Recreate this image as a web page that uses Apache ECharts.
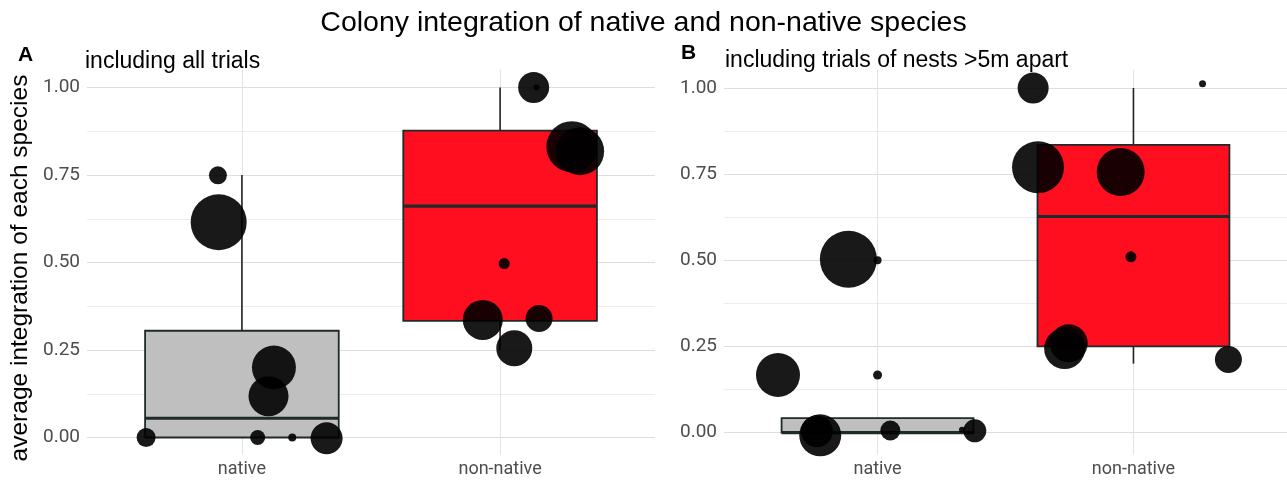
<!DOCTYPE html>
<html>
<head>
<meta charset="utf-8">
<script src="https://cdn.jsdelivr.net/npm/echarts@6/dist/echarts.min.js"></script>
<style>
  html, body { margin: 0; padding: 0; background: #fff; }
  #chart { width: 1287px; height: 481px; }
</style>
</head>
<body>
<div id="chart"></div>
<script>
// categories and ticks
var categories = ["native", "non-native"];
var yTicks = [0, 0.25, 0.5, 0.75, 1];
var yMinor = [0.125, 0.375, 0.625, 0.875];

// boxplot stats: [category x, min, q1, median, q3, max]
var boxAll = [
  [1, 0, 0, 0.055, 0.305, 0.75],
  [2, 0.25, 0.333, 0.661, 0.877, 1.0]
];
var boxFar = [
  [1, 0, 0, 0, 0.042, 0.042],
  [2, 0.2, 0.25, 0.627, 0.835, 1.0]
];

// jittered points: [x, integration, point size]
var ptsAll = [
  [0.907, 0.749, 18], [0.91, 0.615, 56], [1.124, 0.2, 44], [1.103, 0.118, 40],
  [0.629, 0, 19], [1.061, 0, 15], [1.195, 0, 8], [1.328, -0.002, 32],
  [2.13, 1.0, 31], [2.141, 1.0, 6], [2.278, 0.831, 51], [2.31, 0.818, 48],
  [2.016, 0.497, 11], [1.933, 0.336, 40], [2.151, 0.34, 27], [2.055, 0.255, 36]
];
var ptsFar = [
  [0.886, 0.503, 57], [1.0, 0.5, 8], [0.611, 0.167, 44], [1.0, 0.167, 9],
  [0.763, 0.004, 32], [0.776, -0.008, 42], [1.05, 0.006, 20], [1.33, 0.008, 6],
  [1.38, 0.005, 23],
  [1.608, 1.0, 31], [2.27, 1.012, 7], [1.627, 0.77, 52], [1.95, 0.756, 48],
  [1.99, 0.51, 11], [1.731, 0.244, 41], [1.747, 0.259, 38], [2.371, 0.212, 27]
];

var boxColors = ["#bfbfbf", "#fe0e1f"];
var tickColor = "#4d4d4d";
var fontTick = "Roboto, sans-serif";
var fontMain = "'Liberation Sans', Arial, sans-serif";

function renderBox(params, api) {
  var x = api.value(0);
  var half = 0.375;
  var pMin = api.coord([x, api.value(1)]);
  var pQ1 = api.coord([x, api.value(2)]);
  var pMed = api.coord([x, api.value(3)]);
  var pQ3 = api.coord([x, api.value(4)]);
  var pMax = api.coord([x, api.value(5)]);
  var left = api.coord([x - half, 0])[0];
  var right = api.coord([x + half, 0])[0];
  var lineStyle = { stroke: "#222", lineWidth: 1.6 };
  return {
    type: "group",
    children: [
      { type: "line", shape: { x1: pQ3[0], y1: pQ3[1], x2: pMax[0], y2: pMax[1] }, style: lineStyle },
      { type: "line", shape: { x1: pQ1[0], y1: pQ1[1], x2: pMin[0], y2: pMin[1] }, style: lineStyle },
      {
        type: "rect",
        shape: { x: left, y: pQ3[1], width: right - left, height: pQ1[1] - pQ3[1] },
        style: { fill: boxColors[params.dataIndex], stroke: "#1f2a2a", lineWidth: 1.8 }
      },
      { type: "line", shape: { x1: left, y1: pMed[1], x2: right, y2: pMed[1] }, style: { stroke: "#1f2a2a", lineWidth: 3.2 } }
    ]
  };
}

function xAxisFor(gi) {
  return {
    type: "value", gridIndex: gi, min: 0.4, max: 2.6,
    axisLine: { show: false },
    axisTick: { show: false, customValues: [1, 2] },
    axisLabel: {
      customValues: [1, 2], margin: 5, color: tickColor, fontSize: 18, fontFamily: fontTick,
      formatter: function (v) { return categories[Math.round(v) - 1]; }
    },
    splitLine: { show: true, lineStyle: { color: "#e3e3e3", width: 1 } }
  };
}

function yAxisFor(gi, min, max) {
  return {
    type: "value", gridIndex: gi, min: min, max: max,
    axisLine: { show: false },
    axisTick: { show: false, customValues: yTicks },
    axisLabel: {
      customValues: yTicks, margin: 7, color: tickColor, fontSize: 19, fontFamily: fontTick,
      formatter: function (v) { return v.toFixed(2); }
    },
    splitLine: { show: true, lineStyle: { color: "#dedede", width: 1.2 } }
  };
}

function yMinorFor(gi, min, max) {
  return {
    type: "value", gridIndex: gi, min: min, max: max, position: "left",
    axisLine: { show: false },
    axisTick: { show: false, customValues: yMinor },
    axisLabel: { show: false, customValues: yMinor },
    splitLine: { show: true, lineStyle: { color: "#ededed", width: 1 } }
  };
}

var chart = echarts.init(document.getElementById("chart"));

var option = {
  backgroundColor: "#fff",
  animation: false,
  title: [
    { text: "Colony integration of native and non-native species", left: "center", top: 4,
      textStyle: { fontSize: 28.5, fontWeight: "normal", color: "#000", fontFamily: fontMain } },
    { text: "A", left: 13, top: 40, textStyle: { fontSize: 21, fontWeight: "bold", color: "#000", fontFamily: fontMain } },
    { text: "including all trials", left: 80, top: 45, textStyle: { fontSize: 23, fontWeight: "normal", color: "#000", fontFamily: fontMain } },
    { text: "B", left: 676, top: 38, textStyle: { fontSize: 21, fontWeight: "bold", color: "#000", fontFamily: fontMain } },
    { text: "including trials of nests >5m apart", left: 720, top: 44, textStyle: { fontSize: 23, fontWeight: "normal", color: "#000", fontFamily: fontMain } }
  ],
  graphic: [
    { type: "text", x: 20, y: 268, rotation: Math.PI / 2,
      style: { text: "average integration of each species", align: "center", verticalAlign: "middle",
               fontSize: 24.5, fontFamily: fontMain, fill: "#000" } }
  ],
  grid: [
    { left: 87, right: 632, top: 70, bottom: 26 },
    { left: 724, right: -7, top: 70, bottom: 26 }
  ],
  xAxis: [xAxisFor(0), xAxisFor(1)],
  yAxis: [yAxisFor(0, -0.05, 1.05), yMinorFor(0, -0.05, 1.05), yAxisFor(1, -0.065, 1.052), yMinorFor(1, -0.065, 1.052)],
  series: [
    { type: "custom", xAxisIndex: 0, yAxisIndex: 0, renderItem: renderBox, data: boxAll, z: 2 },
    { type: "custom", xAxisIndex: 1, yAxisIndex: 2, renderItem: renderBox, data: boxFar, z: 2 },
    { type: "scatter", xAxisIndex: 0, yAxisIndex: 0, data: ptsAll, z: 3,
      symbolSize: function (v) { return v[2]; },
      itemStyle: { color: "#000", opacity: 0.9 } },
    { type: "scatter", xAxisIndex: 1, yAxisIndex: 2, data: ptsFar, z: 3, clip: true,
      symbolSize: function (v) { return v[2]; },
      itemStyle: { color: "#000", opacity: 0.9 } }
  ]
};
chart.setOption(option);
</script>
</body>
</html>
